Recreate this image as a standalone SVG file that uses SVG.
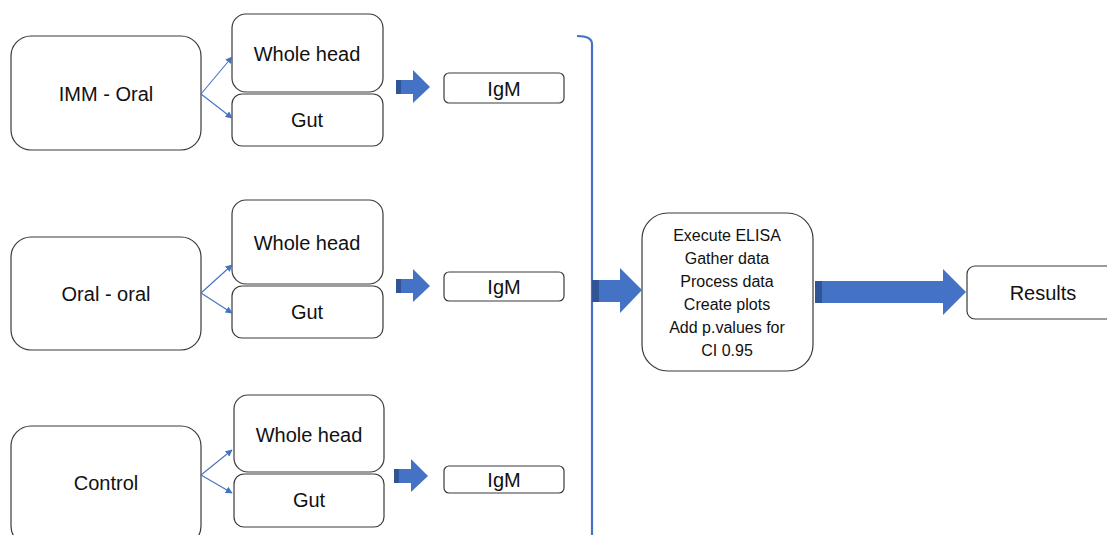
<svg xmlns="http://www.w3.org/2000/svg" width="1107" height="535" viewBox="0 0 1107 535">
<defs>
<style>
.box{fill:#fff;stroke:#3a3a3a;stroke-width:1.2}
.t{font-family:"Liberation Sans",Arial,sans-serif;font-size:20px;fill:#111;text-anchor:middle;dominant-baseline:central}
.ts{font-family:"Liberation Sans",Arial,sans-serif;font-size:16px;fill:#111;text-anchor:middle}
.thin{stroke:#4472C4;stroke-width:1.1;fill:none;marker-end:url(#ah)}
.blk{fill:#4472C4}
.dk{fill:#2F5597}
</style>
<marker id="ah" viewBox="0 0 10 10" refX="9" refY="5" markerWidth="7" markerHeight="7" orient="auto" markerUnits="userSpaceOnUse">
<path d="M0,0 L10,5 L0,10 z" fill="#4472C4"/>
</marker>
</defs>
<rect width="1107" height="535" fill="#fff"/>

<g id="imm-oral"><rect class="box" x="11" y="36" width="190" height="114" rx="20"/><text class="t" x="106" y="94">IMM - Oral</text></g>
<g id="wh1"><rect class="box" x="232" y="14" width="151" height="78" rx="14"/><text class="t" x="307" y="54">Whole head</text></g>
<g id="gut1"><rect class="box" x="232" y="94" width="151" height="52" rx="10"/><text class="t" x="307" y="120">Gut</text></g>
<g id="igm1"><rect class="box" x="444" y="73" width="120" height="30" rx="5"/><text class="t" x="504" y="89">IgM</text></g>

<g id="oral-oral"><rect class="box" x="11" y="237" width="190" height="113" rx="20"/><text class="t" x="106" y="294">Oral - oral</text></g>
<g id="wh2"><rect class="box" x="232" y="200" width="151" height="84" rx="14"/><text class="t" x="307" y="243">Whole head</text></g>
<g id="gut2"><rect class="box" x="232" y="286" width="151" height="52" rx="10"/><text class="t" x="307" y="312">Gut</text></g>
<g id="igm2"><rect class="box" x="444" y="272" width="120" height="29" rx="5"/><text class="t" x="504" y="287">IgM</text></g>

<g id="control"><rect class="box" x="11" y="426" width="190" height="120" rx="20"/><text class="t" x="106" y="483">Control</text></g>
<g id="wh3"><rect class="box" x="234" y="395" width="150" height="77" rx="14"/><text class="t" x="309" y="435">Whole head</text></g>
<g id="gut3"><rect class="box" x="234" y="474" width="150" height="53" rx="10"/><text class="t" x="309" y="500">Gut</text></g>
<g id="igm3"><rect class="box" x="444" y="466" width="120" height="27" rx="5"/><text class="t" x="504" y="480">IgM</text></g>

<g id="process"><rect class="box" x="642" y="213" width="171" height="158" rx="26"/>
<text class="ts" x="727" y="241">Execute ELISA</text>
<text class="ts" x="727" y="264">Gather data</text>
<text class="ts" x="727" y="287">Process data</text>
<text class="ts" x="727" y="310">Create plots</text>
<text class="ts" x="727" y="333">Add p.values for</text>
<text class="ts" x="727" y="356">CI 0.95</text>
</g>
<g id="results"><rect class="box" x="967" y="266" width="150" height="53" rx="8"/><text class="t" x="1043" y="293">Results</text></g>

<g id="connectors">
<path class="thin" d="M201,94 L232,57"/>
<path class="thin" d="M201,94 L232,118"/>
<path class="thin" d="M201,293 L232,265"/>
<path class="thin" d="M201,293 L232,313"/>
<path class="thin" d="M201,475 L232,450"/>
<path class="thin" d="M201,475 L232,493"/>

<path class="blk" d="M396,80 L413,80 L413,70 L430,87 L413,103 L413,94 L396,94 z"/>
<rect class="dk" x="396" y="80" width="5" height="14"/>
<path class="blk" d="M396,279 L413,279 L413,269 L430,286 L413,302 L413,293 L396,293 z"/>
<rect class="dk" x="396" y="279" width="5" height="14"/>
<path class="blk" d="M394,469 L411,469 L411,459 L428,476 L411,492 L411,483 L394,483 z"/>
<rect class="dk" x="394" y="469" width="5" height="14"/>

<path d="M577,36 Q592,36 592,44 L592,535" fill="none" stroke="#4472C4" stroke-width="2.2"/>

<path class="blk" d="M592,280 L620,280 L620,268 L642,290 L620,313 L620,302 L592,302 z"/>
<rect class="dk" x="592" y="280" width="7" height="22"/>
<path class="blk" d="M815,281 L943,281 L943,269 L966,292 L943,315 L943,303 L815,303 z"/>
<rect class="dk" x="815" y="281" width="7" height="22"/>
</g>
</svg>
